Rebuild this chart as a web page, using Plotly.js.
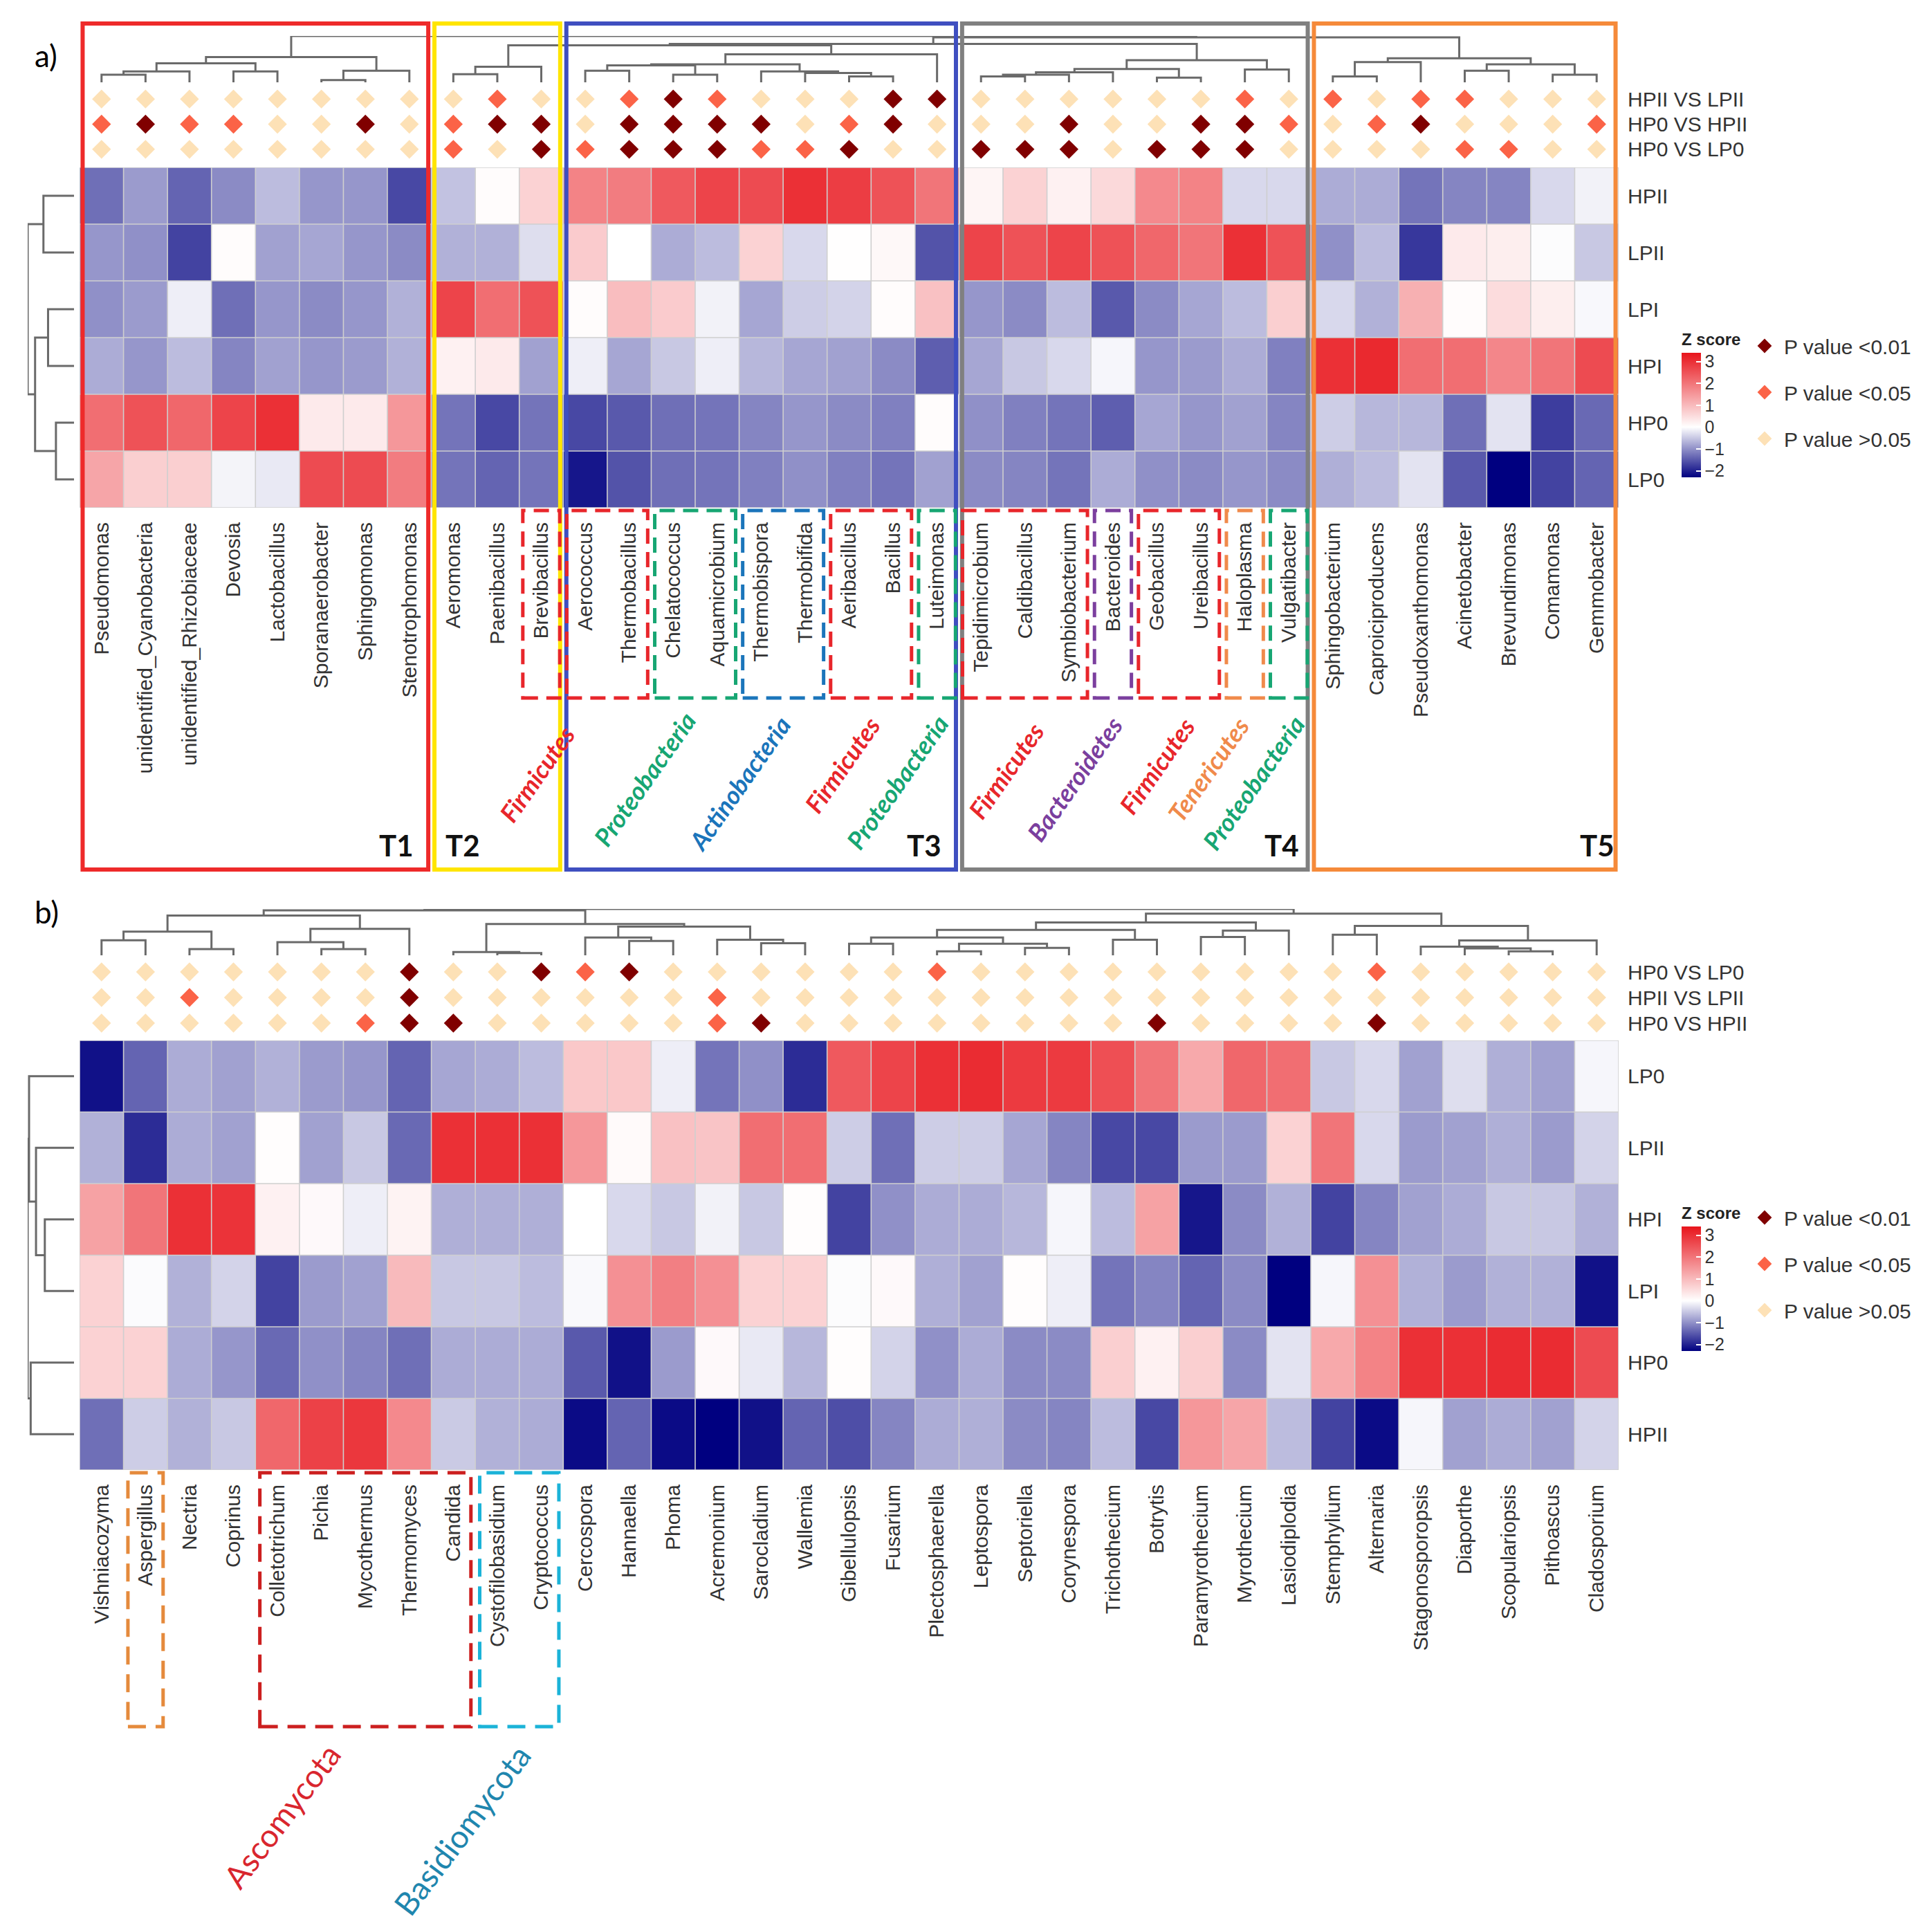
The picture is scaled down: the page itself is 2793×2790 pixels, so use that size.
<!DOCTYPE html>
<html><head><meta charset="utf-8">
<script src="https://cdn.plot.ly/plotly-3.0.1.min.js"></script>
<style>html,body{margin:0;padding:0;background:#fff}</style>
</head><body><div id="chart" style="width:2793px;height:2790px"></div>
<script>
// ================= DATA =================
// Panel a (bacteria)
const generaA = ['Pseudomonas','unidentified_Cyanobacteria','unidentified_Rhizobiaceae','Devosia','Lactobacillus','Sporanaerobacter','Sphingomonas','Stenotrophomonas',
 'Aeromonas','Paenibacillus','Brevibacillus',
 'Aerococcus','Thermobacillus','Chelatococcus','Aquamicrobium','Thermobispora','Thermobifida','Aeribacillus','Bacillus','Luteimonas',
 'Tepidimicrobium','Caldibacillus','Symbiobacterium','Bacteroides','Geobacillus','Ureibacillus','Haloplasma','Vulgatibacter',
 'Sphingobacterium','Caproiciproducens','Pseudoxanthomonas','Acinetobacter','Brevundimonas','Comamonas','Gemmobacter'];
const samplesA = ['HPII','LPII','LPI','HPI','HP0','LP0'];
const zA = [
 [-1.3,-0.9,-1.4,-1.05,-0.6,-0.95,-0.95,-1.65, -0.55,0.05,0.65, 1.8,1.9,2.4,2.7,2.6,3.0,2.8,2.5,2.0, 0.15,0.65,0.2,0.55,1.7,1.8,-0.35,-0.35, -0.75,-0.75,-1.25,-1.1,-1.1,-0.35,-0.12],
 [-0.95,-1.0,-1.7,0.05,-0.85,-0.8,-0.95,-1.05, -0.7,-0.7,-0.3, 0.75,0.0,-0.75,-0.6,0.65,-0.35,0.02,0.1,-1.55, 2.7,2.5,2.7,2.5,2.2,2.0,3.0,2.5, -1.0,-0.6,-1.8,0.3,0.25,-0.03,-0.5],
 [-1.0,-0.9,-0.15,-1.3,-0.95,-1.05,-0.95,-0.7, 2.7,2.1,2.5, 0.05,0.95,0.75,-0.12,-0.8,-0.45,-0.4,0.05,0.9, -0.95,-1.05,-0.6,-1.5,-1.05,-0.8,-0.6,0.7, -0.35,-0.7,1.15,0.05,0.5,0.25,-0.06],
 [-0.75,-0.95,-0.6,-1.1,-0.85,-0.95,-0.9,-0.7, 0.2,0.3,-0.85, -0.15,-0.8,-0.5,-0.15,-0.65,-0.8,-0.85,-1.05,-1.45, -0.8,-0.5,-0.35,-0.08,-0.95,-0.9,-0.75,-1.15, 3.0,3.1,2.1,2.1,1.75,2.0,2.6],
 [2.1,2.5,2.2,2.7,3.0,0.3,0.3,1.5, -1.25,-1.65,-1.25, -1.65,-1.5,-1.3,-1.25,-1.1,-0.95,-1.05,-1.15,0.05, -1.0,-1.15,-1.25,-1.45,-0.8,-0.95,-0.85,-1.1, -0.45,-0.65,-0.65,-1.3,-0.25,-1.75,-1.35],
 [1.3,0.7,0.7,-0.1,-0.2,2.6,2.6,1.9, -1.25,-1.4,-1.25, -2.1,-1.55,-1.3,-1.25,-1.15,-1.0,-1.15,-1.25,-0.85, -1.05,-1.1,-1.25,-0.75,-1.0,-1.05,-0.95,-1.05, -0.72,-0.6,-0.25,-1.5,-2.3,-1.7,-1.4]
];
const compA = ['HPII VS LPII','HP0 VS HPII','HP0 VS LP0'];
// significance level: 2 = P<0.01, 1 = P<0.05, 0 = P>0.05
const sigA = [
 [0,0,0,0,0,0,0,0, 0,1,0, 0,1,2,1,0,0,0,2,2, 0,0,0,0,0,0,1,0, 1,0,1,1,0,0,0],
 [1,2,1,1,0,0,2,0, 1,2,2, 0,2,2,2,2,0,1,2,0, 0,0,2,0,0,2,2,1, 0,1,2,0,0,0,1],
 [0,0,0,0,0,0,0,0, 1,0,2, 1,2,2,2,1,1,2,0,0, 2,2,2,0,2,2,2,0, 0,0,0,1,1,0,0]
];
// dendrogram merges: [child, child, height]; 'L#' = leaf, 'M#' = earlier merge
const colMergeA = [
 ['L0','L1',1.66],['M0','L2',2.36],['L3','L4',2.36],['M1','M2',4.12],['L5','L6',0.5],['M4','L7',2.51],['M3','M5',5.43],
 ['L8','L9',1.76],['M7','L10',3.37],
 ['L11','L12',2.51],['L13','L14',1.66],['M9','M10',3.67],['L17','L18',1.26],['L16','M12',2.01],['L15','M13',2.36],['M11','M14',3.87],['M15','L19',6.03],
 ['M8','M16',7.99],
 ['L20','L21',1.26],['M18','L22',1.66],['M19','L23',2.16],['L24','L25',1.0],['M20','M21',2.86],['L26','L27',2.76],['M22','M23',4.77],
 ['M17','M24',8.29],
 ['L28','L29',1.26],['M26','L30',4.37],['L31','L32',2.51],['L33','L34',1.66],['M28','M29',3.87],['M27','M30',5.18],
 ['M25','M31',9.7],['M6','M32',10]
];
const rowMergeA = [['L0','L1',6.6],['L2','L3',5.6],['L4','L5',3.9],['M1','M2',8.4],['M0','M3',10]];

// Panel b (fungi)
const generaB = ['Vishniacozyma','Aspergillus','Nectria','Coprinus','Colletotrichum','Pichia','Mycothermus','Thermomyces','Candida','Cystofilobasidium','Cryptococcus',
 'Cercospora','Hannaella','Phoma','Acremonium','Sarocladium','Wallemia','Gibellulopsis','Fusarium','Plectosphaerella','Leptospora','Septoriella','Corynespora',
 'Trichothecium','Botrytis','Paramyrothecium','Myrothecium','Lasiodiplodia','Stemphylium','Alternaria','Stagonosporopsis','Diaporthe','Scopulariopsis','Pithoascus','Cladosporium'];
const samplesB = ['LP0','LPII','HPI','LPI','HP0','HPII'];
const zB = [
 [-2.15,-1.4,-0.75,-0.85,-0.7,-0.9,-0.95,-1.4,-0.8,-0.75,-0.6, 0.8,0.8,-0.15,-1.25,-1.0,-1.9, 2.4,2.7,3.0,3.05,2.85,2.85,2.55,2.0,1.25,2.2,2.1,-0.5,-0.35,-0.85,-0.3,-0.72,-0.85,-0.08],
 [-0.7,-1.9,-0.75,-0.85,0.03,-0.85,-0.5,-1.35,3.0,3.0,3.0, 1.5,0.07,0.9,0.85,2.1,2.1, -0.45,-1.3,-0.45,-0.45,-0.8,-1.1,-1.65,-1.65,-0.9,-0.9,0.65,2.0,-0.35,-0.9,-0.85,-0.72,-0.9,-0.4],
 [1.35,2.0,3.0,2.95,0.2,0.08,-0.15,0.18,-0.72,-0.72,-0.72, 0.0,-0.35,-0.5,-0.12,-0.5,0.03, -1.7,-1.0,-0.75,-0.75,-0.65,-0.08,-0.6,1.35,-2.1,-1.05,-0.7,-1.7,-1.1,-0.85,-0.75,-0.5,-0.5,-0.7],
 [0.65,-0.04,-0.7,-0.4,-1.7,-0.9,-0.85,1.0,-0.5,-0.5,-0.6, -0.05,1.6,1.85,1.6,0.65,0.65, -0.03,0.08,-0.72,-0.85,0.03,-0.15,-1.25,-1.1,-1.4,-1.05,-2.3,-0.08,1.6,-0.7,-0.9,-0.7,-0.7,-2.15],
 [0.65,0.65,-0.75,-0.95,-1.35,-1.0,-1.1,-1.3,-0.75,-0.75,-0.75, -1.5,-2.15,-0.9,0.08,-0.2,-0.65, 0.03,-0.4,-1.0,-0.75,-1.05,-1.05,0.7,0.2,0.7,-1.05,-0.25,1.25,1.8,3.0,3.0,3.05,3.05,2.6],
 [-1.3,-0.45,-0.7,-0.5,2.2,2.75,2.9,1.7,-0.48,-0.7,-0.75, -2.2,-1.4,-2.2,-2.3,-2.15,-1.4, -1.6,-1.1,-0.75,-0.72,-1.05,-1.1,-0.6,-1.65,1.5,1.3,-0.6,-1.7,-2.2,-0.08,-0.85,-0.75,-0.85,-0.4]
];
const compB = ['HP0 VS LP0','HPII VS LPII','HP0 VS HPII'];
const sigB = [
 [0,0,0,0,0,0,0,2,0,0,2,1,2,0,0,0,0, 0,0,1,0,0,0,0,0,0,0,0,0,1,0,0,0,0,0],
 [0,0,1,0,0,0,0,2,0,0,0,0,0,0,1,0,0, 0,0,0,0,0,0,0,0,0,0,0,0,0,0,0,0,0,0],
 [0,0,0,0,0,0,1,2,2,0,0,0,0,0,1,2,0, 0,0,0,0,0,0,0,2,0,0,0,0,2,0,0,0,0,0]
];
const colMergeB = [
 ['L0','L1',3.25],['L2','L3',1.35],['M0','M1',5.1],['L5','L6',1.35],['L4','M3',2.85],['M4','L7',5.7],['M2','M5',8.6],
 ['L9','L10',0.5],['L8','M7',0.7],['L12','L13',3.1],['L11','M9',3.85],['L15','L16',2.6],['L14','M11',3.35],['M10','M12',6.2],['M8','M13',6.75],
 ['M6','M14',9.7],
 ['L17','L18',2.5],['L19','L20',0.85],['L21','L22',1.6],['M17','M18',2.5],['M16','M19',3.85],['L23','L24',3.35],['M20','M21',5.5],
 ['L25','L26',3.95],['M23','L27',5.35],['M22','M24',7.1],
 ['L28','L29',4.45],['L32','L33',0.85],['L31','M27',1.5],['L30','M28',1.85],['M29','L34',3.2],['M26','M30',6.35],
 ['M25','M31',9.0],['M15','M32',10]
];
const rowMergeB = [['L2','L3',6.3],['L1','M0',8.2],['L0','M1',9.7],['L4','L5',9.35],['M2','M3',10]];

const sigLevels = ['P value &lt;0.01','P value &lt;0.05','P value &gt;0.05'];

// Cluster groups (panel a) and taxon boxes
const clusterGroups = [
 {name:'T1', first:0, last:7, color:'#ee2a2a'},
 {name:'T2', first:8, last:10, color:'#ffe500'},
 {name:'T3', first:11, last:19, color:'#3f4fc0'},
 {name:'T4', first:20, last:27, color:'#808080'},
 {name:'T5', first:28, last:34, color:'#f58a3a'}
];
const phylumBoxesA = [
 {first:10,last:10,phylum:'Firmicutes'},{first:11,last:12,phylum:'Firmicutes'},{first:13,last:14,phylum:'Proteobacteria'},
 {first:15,last:16,phylum:'Actinobacteria'},{first:17,last:18,phylum:'Firmicutes'},{first:19,last:19,phylum:'Proteobacteria'},
 {first:20,last:22,phylum:'Firmicutes'},{first:23,last:23,phylum:'Bacteroidetes'},{first:24,last:25,phylum:'Firmicutes'},
 {first:26,last:26,phylum:'Tenericutes'},{first:27,last:27,phylum:'Proteobacteria'}
];
const phylumBoxesB = [
 {first:1,last:1,phylum:'Other'},{first:4,last:8,phylum:'Ascomycota'},{first:9,last:10,phylum:'Basidiomycota'}
];

// ================= STYLE / LAYOUT =================
const W = 2793, H = 2790;
const px = v => v / W, py = v => 1 - v / H;
const FONT = 'Liberation Sans, Arial, sans-serif';
const LATO = 'Lato, Open Sans, sans-serif';
const phylumColor = {Firmicutes:'#e8262b', Proteobacteria:'#17a673', Actinobacteria:'#1b75bb', Bacteroidetes:'#7b3f9e', Tenericutes:'#f08a4b'};
const boxColorB = {Other:'#e58a3c', Ascomycota:'#cc1f1f', Basidiomycota:'#1bb3d8'};
const sigColors = ['#800000','#fb6347','#fde1b6'];
const zmin = -2.3, zmax = 3.4;
const cscale = [[0,'#000080'],[(0-zmin)/(zmax-zmin),'#ffffff'],[1,'#e8141b']];

function dendro(merges){
  const pos = [], hts = [], p = [], h = [];
  const get = r => { const k = +r.slice(1); return r[0] === 'L' ? [k, 0] : [pos[k], hts[k]]; };
  merges.forEach((m, i) => {
    const [pa, ha] = get(m[0]), [pb, hb] = get(m[1]);
    p.push(pa, pa, pb, pb, null); h.push(ha, m[2], m[2], hb, null);
    pos[i] = (pa + pb) / 2; hts[i] = m[2];
  });
  return {p, h};
}
const idx = n => Array.from({length:n}, (_, i) => i);
const nA = generaA.length, nB = generaB.length;

const traces = [];
function heat(z, xa, ya, cbTop){
  return {type:'heatmap', z, x: idx(z[0].length), y: idx(z.length), xaxis: xa, yaxis: ya,
    colorscale: cscale, zmin, zmax, hoverinfo:'skip',
    colorbar:{x: px(2431), xanchor:'left', xpad:0, y: py(cbTop), yanchor:'top', ypad:0,
      len: 212, lenmode:'pixels', thickness: 28, outlinewidth: 0,
      title:{text:'<b>Z score</b>', side:'top', font:{size:24, family:FONT, color:'#222'}},
      tickvals:[-2,-1,0,1,2,3], ticks:'inside', ticklen:7, tickcolor:'#ffffff', tickwidth:2,
      tickfont:{size:25, family:FONT, color:'#333'}}};
}
traces.push(heat(zA, 'x', 'y', 478));
traces.push(heat(zB, 'x2', 'y4', 1741));

function diamonds(sig, xa, ya, legend){
  [2,1,0].forEach((lvl, k) => {
    const xs = [], ys = [];
    sig.forEach((row, r) => row.forEach((v, c) => { if (v === lvl){ xs.push(c); ys.push(r); } }));
    traces.push({type:'scatter', mode:'markers', x: xs, y: ys, xaxis: xa, yaxis: ya,
      name: sigLevels[k], legend, legendgroup: legend + lvl, hoverinfo:'skip',
      marker:{symbol:'diamond', size:21, color: sigColors[k], line:{width:0}}});
  });
}
diamonds(sigA, 'x', 'y2', 'legend');
diamonds(sigB, 'x2', 'y5', 'legend2');

const dLine = {color:'#6a6a6a', width:3};
const tA = dendro(colMergeA), rA = dendro(rowMergeA), tB = dendro(colMergeB), rB = dendro(rowMergeB);
traces.push({type:'scatter', mode:'lines', x: tA.p, y: tA.h, xaxis:'x', yaxis:'y3', line: dLine, showlegend:false, hoverinfo:'skip'});
traces.push({type:'scatter', mode:'lines', x: rA.h, y: rA.p, xaxis:'x3', yaxis:'y', line: dLine, showlegend:false, hoverinfo:'skip'});
traces.push({type:'scatter', mode:'lines', x: tB.p, y: tB.h, xaxis:'x2', yaxis:'y6', line: dLine, showlegend:false, hoverinfo:'skip'});
traces.push({type:'scatter', mode:'lines', x: rB.h, y: rB.p, xaxis:'x4', yaxis:'y4', line: dLine, showlegend:false, hoverinfo:'skip'});

// shapes
const shapes = [];
function grid(xa, ya, nc, nr){
  for (let c = 0; c <= nc; c++) shapes.push({type:'line', xref:xa, yref:ya, x0:c-0.5, x1:c-0.5, y0:-0.5, y1:nr-0.5, line:{color:'#cfcfcf', width:1.6}});
  for (let r = 0; r <= nr; r++) shapes.push({type:'line', xref:xa, yref:ya, x0:-0.5, x1:nc-0.5, y0:r-0.5, y1:r-0.5, line:{color:'#cfcfcf', width:1.6}});
}
grid('x', 'y', nA, samplesA.length);
grid('x2', 'y4', nB, samplesB.length);

clusterGroups.forEach(g => shapes.push({type:'rect', xref:'x', yref:'paper',
  x0: g.first - 0.5 + 0.07, x1: g.last + 0.5 - 0.07, y0: py(1257), y1: py(34),
  line:{color:g.color, width:6}, fillcolor:'rgba(0,0,0,0)'}));
phylumBoxesA.forEach(b => shapes.push({type:'rect', xref:'x', yref:'paper',
  x0: b.first - 0.5 + 0.08, x1: b.last + 0.5 - 0.08, y0: py(1009), y1: py(738),
  line:{color: phylumColor[b.phylum], width:5, dash:'22px,12px'}, fillcolor:'rgba(0,0,0,0)'}));
phylumBoxesB.forEach(b => shapes.push({type:'rect', xref:'x2', yref:'paper',
  x0: b.first - 0.5 + 0.1, x1: b.last + 0.5 - 0.1, y0: py(2496), y1: py(2129),
  line:{color: boxColorB[b.phylum], width:5, dash:'26px,14px'}, fillcolor:'rgba(0,0,0,0)'}));

// annotations
const ann = [];
const A = {showarrow:false, xanchor:'center', yanchor:'middle'};
ann.push(Object.assign({}, A, {text:'a)', x:px(48), y:py(80), xref:'paper', yref:'paper', xanchor:'left', font:{family:LATO, size:44, color:'#000'}}));
ann.push(Object.assign({}, A, {text:'b)', x:px(48), y:py(1318), xref:'paper', yref:'paper', xanchor:'left', font:{family:LATO, size:44, color:'#000'}}));
const tLabelPos = [6.71, 8.21, 18.71, 26.84, 34.02];
clusterGroups.forEach((g, i) => ann.push(Object.assign({}, A, {text:'<b>'+g.name+'</b>', x:tLabelPos[i], y:py(1222), xref:'x', yref:'paper',
  font:{family:LATO, size:42, color:'#111'}})));
const phylumLabelPos = [[9.9,1119],[12.35,1126],[14.5,1133],[16.85,1105],[18.1,1130],[20.57,1114],[22.13,1126],[24.0,1107],[25.17,1112],[26.2,1131]];
const phylumLabelText = ['Firmicutes','Proteobacteria','Actinobacteria','Firmicutes','Proteobacteria','Firmicutes','Bacteroidetes','Firmicutes','Tenericutes','Proteobacteria'];
phylumLabelText.forEach((t, i) => ann.push(Object.assign({}, A, {text:'<b><i>'+t+'</i></b>', x:phylumLabelPos[i][0], y:py(phylumLabelPos[i][1]), xref:'x', yref:'paper',
  textangle:-55, font:{family:LATO, size:36, color: phylumColor[t]}})));
ann.push(Object.assign({}, A, {text:'Ascomycota', x:4.1, y:py(2624), xref:'x2', yref:'paper', textangle:-53, font:{family:LATO, size:46, color:'#d9262e'}}));
ann.push(Object.assign({}, A, {text:'Basidiomycota', x:8.19, y:py(2645), xref:'x2', yref:'paper', textangle:-53, font:{family:LATO, size:46, color:'#1f86ae'}}));

const hidden = {visible:false, showgrid:false, zeroline:false, fixedrange:true};
const tickFont = {family:FONT, size:30, color:'#333'};
const xCommon = {domain:[px(115), px(2340)], range:[-0.5, 34.5], showgrid:false, zeroline:false, showline:false, ticks:'',
  tickangle:-90, tickfont:tickFont, ticklabelstandoff:14};
const yRight = {side:'right', showgrid:false, zeroline:false, showline:false, ticks:'', tickfont:tickFont, ticklabelstandoff:12};
const legendStyle = {xanchor:'left', yanchor:'top', font:{family:FONT, size:30, color:'#333'},
  tracegroupgap:25, itemsizing:'trace', itemwidth:46, bgcolor:'rgba(0,0,0,0)'};

const layout = {
  width:W, height:H, margin:{l:0, r:0, t:0, b:0, autoexpand:false}, paper_bgcolor:'#fff', plot_bgcolor:'rgba(0,0,0,0)',
  font:{family:FONT, color:'#333'}, hovermode:false, showlegend:true,
  xaxis: Object.assign({}, xCommon, {anchor:'y', tickvals:idx(nA), ticktext:generaA}),
  yaxis: Object.assign({}, yRight, {anchor:'x', domain:[py(734), py(242)], range:[5.5,-0.5], tickvals:idx(6), ticktext:samplesA}),
  yaxis2: Object.assign({}, yRight, {anchor:'x', domain:[py(234), py(125)], range:[2.5,-0.5], tickvals:idx(3), ticktext:compA}),
  yaxis3: Object.assign({}, hidden, {anchor:'x', domain:[py(119), py(52)], range:[0,10]}),
  xaxis3: Object.assign({}, hidden, {anchor:'y', domain:[px(40), px(107)], range:[10,0]}),
  xaxis2: Object.assign({}, xCommon, {anchor:'y4', tickvals:idx(nB), ticktext:generaB}),
  yaxis4: Object.assign({}, yRight, {anchor:'x2', domain:[py(2125), py(1504)], range:[5.5,-0.5], tickvals:idx(6), ticktext:samplesB}),
  yaxis5: Object.assign({}, yRight, {anchor:'x2', domain:[py(1497.5), py(1386.5)], range:[2.5,-0.5], tickvals:idx(3), ticktext:compB}),
  yaxis6: Object.assign({}, hidden, {anchor:'x2', domain:[py(1381), py(1314)], range:[0,10]}),
  xaxis4: Object.assign({}, hidden, {anchor:'y4', domain:[px(40), px(107)], range:[10,0]}),
  legend: Object.assign({}, legendStyle, {x:px(2523), y:py(474)}),
  legend2: Object.assign({}, legendStyle, {x:px(2523), y:py(1734)}),
  shapes, annotations: ann
};
Plotly.newPlot('chart', traces, layout, {staticPlot:true, displayModeBar:false});
</script></body></html>
